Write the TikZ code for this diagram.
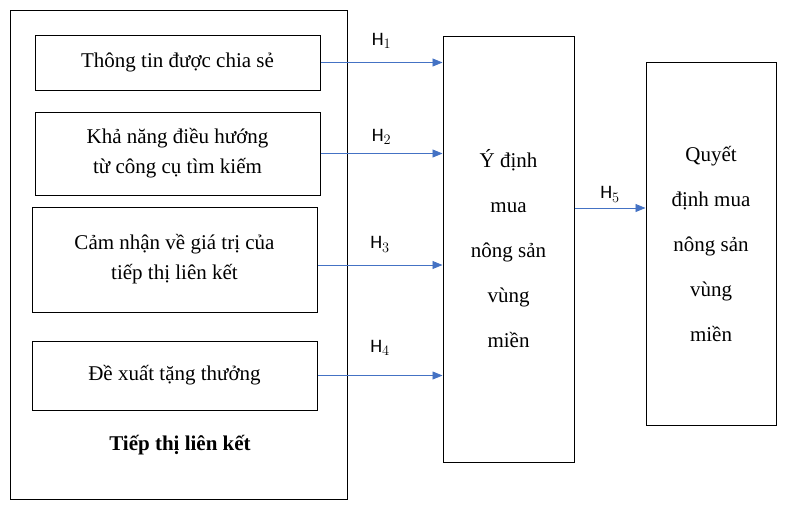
\documentclass[tikz,border=0pt]{standalone}
\usepackage{fontspec}
\setmainfont{Liberation Serif}
\newfontfamily\hfont{Carlito}
\usetikzlibrary{positioning,arrows.meta}
\definecolor{arrowblue}{RGB}{68,114,196}
\tikzset{
  box/.style={draw, line width=1pt, align=center, font=\fontsize{21}{30}\selectfont},
  link/.style={-{Triangle[length=10pt,width=8pt]}, arrowblue, line width=0.8pt},
  hlab/.style={black, font=\hfont\fontsize{19}{22}\selectfont}
}
\begin{document}
\begin{tikzpicture}[x=1pt, y=-1pt]
\useasboundingbox (0,0) rectangle (787,507);
\draw[line width=1pt] (10,10) rectangle (347,499);
\node[box, minimum width=285pt, minimum height=55pt] (info) at (177.5,62.5) {Thông tin được chia sẻ};
\node[box, minimum width=285pt, minimum height=83pt] (nav) at (177.5,153.5) {Khả năng điều hướng\\từ công cụ tìm kiếm};
\node[box, minimum width=285pt, minimum height=105pt] (value) at (174.5,259.5) {Cảm nhận về giá trị của\\tiếp thị liên kết};
\node[box, minimum width=285pt, minimum height=69pt] (bonus) at (174.5,375.5) {Đề xuất tặng thưởng};
\node[font=\fontsize{21}{24}\selectfont\bfseries] (title) at (180,445) {Tiếp thị liên kết};
\node[box, minimum width=131pt, minimum height=426pt, font=\fontsize{21}{45}\selectfont] (intent) at (508.5,249) {Ý định\\mua\\nông sản\\vùng\\miền};
\node[box, minimum width=130pt, minimum height=363pt, font=\fontsize{21}{45}\selectfont] (decision) at (711,243.5) {Quyết\\định mua\\nông sản\\vùng\\miền};
\draw[link] (info.east) -- (info.east -| intent.west) node[hlab, midway, above=10pt] {H$_1$};
\draw[link] (nav.east) -- (nav.east -| intent.west) node[hlab, midway, above=5pt] {H$_2$};
\draw[link] (value.east |- 0,265) coordinate (v) -- (v -| intent.west) node[hlab, midway, above=9pt] {H$_3$};
\draw[link] (bonus.east) -- (bonus.east -| intent.west) node[hlab, midway, above=16pt] {H$_4$};
\draw[link] (intent.east |- 0,208) coordinate (q) -- (q -| decision.west) node[hlab, midway, above=2pt] {H$_5$};
\end{tikzpicture}
\end{document}
